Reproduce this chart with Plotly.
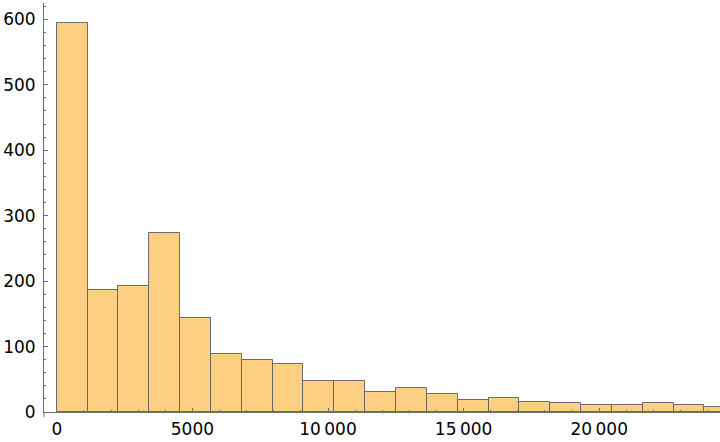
import plotly.graph_objects as go

# Histogram data (counts per bin)
bin_start = 0
bin_width = 1137
counts = [594, 186, 192, 274, 144, 88, 80, 74, 48, 48, 30, 36, 27, 19, 22, 16, 14, 10, 10, 13, 10, 8]

x_tickvals = [0, 5000, 10000, 15000, 20000]
x_ticktext = ["0", "5000", "10\u2009000", "15\u2009000", "20\u2009000"]
y_tickvals = [0, 100, 200, 300, 400, 500, 600]
y_ticktext = ["0", "100", "200", "300", "400", "500", "600"]

centers = [bin_start + bin_width * (i + 0.5) for i in range(len(counts))]

axis_col = "#6e6e6e"
font = dict(family="DejaVu Sans", size=17, color="black")

fig = go.Figure(go.Bar(
    x=centers, y=counts, width=[bin_width] * len(counts),
    marker=dict(color="#FDCF82", line=dict(color="rgba(95,95,95,0.9)", width=1)),
    hoverinfo="x+y",
))

fig.update_layout(
    width=720, height=442,
    margin=dict(l=44, r=0, t=3, b=30),
    plot_bgcolor="white", paper_bgcolor="white",
    showlegend=False, bargap=0,
    font=font,
    xaxis=dict(
        range=[-472, 24454], showgrid=False, zeroline=False, automargin=False,
        showline=True, linecolor=axis_col, linewidth=1,
        tickmode="array", tickvals=x_tickvals, ticktext=x_ticktext,
        ticks="inside", ticklen=4, tickcolor=axis_col, tickwidth=1,
        minor=dict(tickmode="linear", tick0=0, dtick=1000, ticks="inside",
                   ticklen=2, tickcolor=axis_col, tickwidth=1),
        tickfont=font, ticklabelstandoff=2,
    ),
    yaxis=dict(
        range=[0, 625], showgrid=False, zeroline=False, automargin=False,
        showline=True, linecolor=axis_col, linewidth=1,
        tickmode="array", tickvals=y_tickvals, ticktext=y_ticktext,
        ticks="inside", ticklen=4, tickcolor=axis_col, tickwidth=1,
        minor=dict(tickmode="linear", tick0=0, dtick=20, ticks="inside",
                   ticklen=2, tickcolor=axis_col, tickwidth=1),
        tickfont=font, ticklabelstandoff=4,
    ),
    shapes=[dict(type="line", xref="paper", yref="paper", x0=0, x1=0,
                 y0=0, y1=-5 / 409, line=dict(color=axis_col, width=1))],
)

fig.write_html("out.html", config={"displayModeBar": False},
               post_script="document.body.style.margin='0';document.body.style.overflow='hidden';")
